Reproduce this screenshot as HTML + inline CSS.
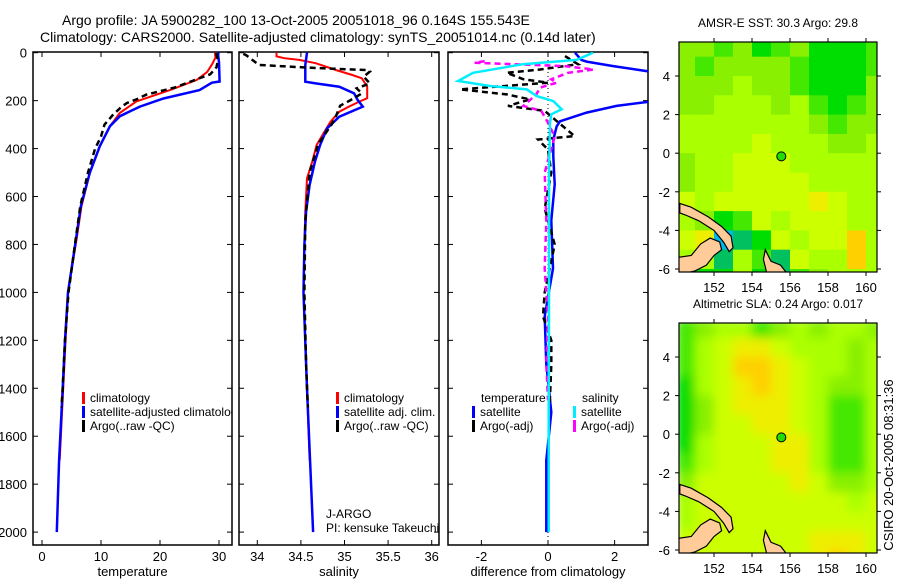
<!DOCTYPE html>
<html><head><meta charset="utf-8"><style>
html,body{margin:0;padding:0;background:#fff;}
svg{display:block;font-family:"Liberation Sans",sans-serif;}
text{fill:#000;}
</style></head><body>
<svg id="fig" width="900" height="580" viewBox="0 0 900 580" xmlns="http://www.w3.org/2000/svg">
<defs>
<clipPath id="cp1"><rect x="33" y="52" width="199" height="493"/></clipPath>
<clipPath id="cp2"><rect x="239" y="52" width="200" height="493"/></clipPath>
<clipPath id="cp3"><rect x="448" y="52" width="200" height="493"/></clipPath>
<clipPath id="cpm1"><rect x="679" y="42" width="198" height="230"/></clipPath>
<clipPath id="cpm2"><rect x="679" y="323" width="198" height="230"/></clipPath>
<filter id="blur" x="-10%" y="-10%" width="120%" height="120%"><feGaussianBlur stdDeviation="5"/></filter>
</defs>
<text x="62" y="25" font-size="14">Argo profile: JA 5900282_100 13-Oct-2005 20051018_96 0.164S 155.543E</text>
<text x="40" y="42" font-size="14">Climatology: CARS2000. Satellite-adjusted climatology: synTS_20051014.nc (0.14d later)</text>
<g id="g1"></g>
<g id="g2"></g>
<g id="g3"></g>
<g id="m1"></g>
<g id="m2"></g>
<text transform="translate(893,465) rotate(-90)" text-anchor="middle" font-size="13">CSIRO 20-Oct-2005 08:31:36</text>
</svg>
<script>
// ---- data ----
const depthTicks=[0,200,400,600,800,1000,1200,1400,1600,1800,2000];
const tempTicks=[0,10,20,30];
const salTicks=[34,34.5,35,35.5,36];
const salTickLabels=["34","34.5","35","35.5","36"];
const diffTicks=[-2,0,2];
const climT_d=[0,20,45,80,114,156,203,251,307,390,501,640,772,1000,1200,1400,1700];
const climT=[29.3,29.4,28.9,28.0,26.2,21.7,16.0,13.2,11.5,9.8,8.1,6.7,5.9,4.4,4.0,3.6,3.0];
const adjT_d=[0,40,120,125,156,191,225,265,307,390,501,640,772,1000,1200,1400,1700,2000];
const adjT=[29.8,30,30.1,28.8,26.7,20.6,16.6,13.2,11.5,9.8,8.1,6.6,5.8,4.4,3.9,3.5,2.9,2.5];
const argoT_d=[2,30,60,90,110,145,175,195,210,225,260,300,350,400,500,640,780,1000,1200,1400,1480];
const argoT=[29.5,29.8,29.6,28.5,26.3,22.5,17.7,16,14.4,13.5,12,10.6,10,9,7.8,6.5,5.7,4.5,3.9,3.5,3.3];
const climS_d=[0,15,23,30,44,72,93,107,142,190,204,225,246,288,330,385,455,524,663,802,1000,1300,1700];
const climS=[34.22,34.22,34.31,34.48,34.67,34.9,35.09,35.2,35.26,35.26,35.17,35.05,34.94,34.84,34.77,34.68,34.63,34.57,34.55,34.54,34.53,34.56,34.6];
const adjS_d=[0,51,121,128,142,170,197,225,267,316,385,455,552,663,802,1000,1400,2000];
const adjS=[34.57,34.55,34.55,34.67,34.94,35.11,35.15,35.21,34.94,34.8,34.72,34.66,34.6,34.56,34.54,34.53,34.57,34.64];
const argoS_d=[5,10,51,58,65,72,79,100,128,149,170,200,221,267,301,380,500,700,1000,1300,1480];
const argoS=[33.84,33.87,34.02,34.36,34.75,35.25,35.29,35.22,35.29,35.14,35.2,35.06,34.95,34.9,34.85,34.7,34.6,34.55,34.54,34.56,34.58];
const satT_d=[0,30,37,56,84,200,222,250,286,307,363,432,550,700,900,1100,1300,1500,1700,2000];
const satT=[0.81,1.0,1.16,1.96,3.3,3.3,2.06,1.16,0.36,0.26,0.16,0.16,0.2,0.1,0.15,-0.1,-0.05,0.1,-0.05,-0.05];
const satS_d=[0,30,48,84,118,139,153,181,202,236,257,292,500,1000,1500,2000];
const satS=[1.35,0.86,-0.75,-2.25,-2.7,-1.74,-0.64,-0.34,0.16,0.41,0.1,0.06,0.03,0.03,0.02,0.02];
const argoTd_d=[14,48,70,84,111,125,153,174,195,222,243,313,348,362,404,500,650,800,1000,1100,1200,1300,1470];
const argoTd=[0.51,0.9,-0.24,-1.24,-0.74,0,-2.64,-1.24,-0.54,-1.2,-0.1,0.5,0.8,-0.3,0,0.1,-0.1,0.2,-0.1,-0.15,0.1,0.1,0.05];
const argoSd_d=[35,42,56,70,84,111,125,146,174,222,243,292,350,500,700,900,1100,1300,1450];
const argoSd=[-1.9,-2.2,0.5,1.37,0.6,0.1,0.26,-0.24,-0.35,-0.74,-0.2,0,0.2,-0.1,-0.05,-0.1,0,-0.05,0];
const lonTicks=[152,154,156,158,160];
const latTicks=[4,2,0,-2,-4,-6];
const palette=["#0030d0","#00b8e8","#00c060","#00dd00","#44e800","#88f000","#aaff00","#ccff00","#eeee00","#ffd000","#ffb000"];
const sstGrid=[
[5,5,4,5,3,4,5,3,3,3,4],[5,4,5,5,5,5,4,3,3,3,4],[5,5,5,6,5,5,4,3,3,3,5],[5,5,6,6,6,5,6,4,3,4,5],
[6,6,6,6,6,6,6,5,4,5,5],[6,6,6,6,7,6,6,6,5,5,6],[5,6,6,7,7,7,6,6,6,6,6],[5,6,6,7,7,7,7,6,6,6,6],
[7,6,7,7,7,7,7,8,7,6,6],[6,5,3,4,7,6,7,7,7,6,6],[7,8,1,2,3,7,6,7,7,9,6],[6,6,2,6,4,2,7,6,6,9,6],[6,3,3,6,3,2,4,5,6,6,6]];
const slaGrid=[
[4,5,6,6,4,5,6,5,6,6,5],[4,6,7,8,8,7,6,6,6,5,6],[4,6,7,9,9,8,7,6,6,5,6],[3,6,7,8,9,8,7,6,5,5,6],
[3,5,7,8,8,8,7,6,4,4,6],[3,5,7,7,8,8,7,6,4,4,6],[3,6,7,7,7,8,8,6,4,4,6],[4,6,7,7,7,8,8,6,4,4,6],
[5,7,7,7,7,7,8,7,5,5,6],[6,7,7,7,7,7,7,7,7,6,7],[6,7,7,7,7,7,7,7,7,7,7],[7,7,7,7,7,7,7,8,8,8,7],[7,7,7,7,7,7,7,8,9,8,7]];
const argoLon=155.543, argoLat=-0.164;
const land1=[[150.2,-2.6],[150.8,-2.8],[151.7,-3.3],[152.4,-3.8],[152.9,-4.3],[153.0,-4.9],[152.8,-5.1],[152.5,-4.6],[152,-4.0],[151.2,-3.5],[150.5,-3.2],[150.2,-3.1]];
const land2=[[150.1,-5.4],[150.8,-5.3],[151.3,-4.7],[151.8,-4.4],[152.3,-4.6],[152.4,-5.0],[152.0,-5.3],[151.6,-5.8],[151,-6.1],[150.1,-6.3]];
const land3=[[154.7,-5.0],[155.0,-5.6],[155.5,-5.8],[155.9,-6.3],[154.8,-6.3],[154.6,-5.5]];

// ---- helpers ----
const NS="http://www.w3.org/2000/svg";
function mk(tag,attrs,parent){const e=document.createElementNS(NS,tag);for(const k in attrs)e.setAttribute(k,attrs[k]);parent.appendChild(e);return e;}
const yD=d=>52.7+d*0.2397;
function panel(g,x0,x1,xs,ticks,labels,title){
  const f=mk('rect',{x:x0,y:52,width:x1-x0,height:493,fill:'none',stroke:'#000','stroke-width':1.5},g);
  
  
  ticks.forEach((t,i)=>{const x=xs(t);
    mk('line',{x1:x,x2:x,y1:52,y2:57,stroke:'#000'},g);mk('line',{x1:x,x2:x,y1:540,y2:545,stroke:'#000'},g);
    const tx=mk('text',{x:x,y:561,'text-anchor':'middle','font-size':13},g);tx.textContent=labels[i];
    
    });
  depthTicks.forEach(d=>{const y=yD(d);mk('line',{x1:x0,x2:x0+5,y1:y,y2:y,stroke:'#000'},g);mk('line',{x1:x1-5,x2:x1,y1:y,y2:y,stroke:'#000'},g);});
  const t=mk('text',{x:(x0+x1)/2,y:576,'text-anchor':'middle','font-size':13},g);t.textContent=title;
  
  
}
function line(g,xs,vals,ds,color,w,dash,name,cp){
  const p=vals.map((v,i)=>(i?'L':'M')+xs(v).toFixed(1)+','+yD(ds[i]).toFixed(1)).join('');
  const a={d:p,fill:'none',stroke:color,'stroke-width':w,'clip-path':'url(#'+cp+')'};
  if(dash)a['stroke-dasharray']=dash;
  const e=mk('path',a,g);
  
  
}
function legend(g,x,y,color,label,name){
  mk('rect',{x:x,y:y-10,width:3,height:12,fill:color},g);
  const t=mk('text',{x:x+8,y:y,'font-size':12},g);t.textContent=label;
  
  
}
// ---- temperature ----
const g1=document.getElementById('g1');
const xT=t=>42+t*5.9;
panel(g1,33,232,xT,tempTicks,tempTicks.map(String),'temperature');
depthTicks.forEach(d=>{const t=mk('text',{x:27,y:yD(d)+5,'text-anchor':'end','font-size':13},g1);t.textContent=d;
  
  });
line(g1,xT,climT,climT_d,'#ff0000',2,null,'climatology-temperature-line','cp1');
line(g1,xT,adjT,adjT_d,'#0000ff',2.5,null,'satellite-adjusted-temperature-line','cp1');
line(g1,xT,argoT,argoT_d,'#000',2.5,'6,4','argo-temperature-line','cp1');
const lg1=mk('g',{'clip-path':'url(#cp1)'},g1);
legend(lg1,82,402,'#ff0000','climatology','legend-climatology');
legend(lg1,82,416,'#0000ff','satellite-adjusted climatology','legend-satellite-adjusted');
legend(lg1,82,430,'#000','Argo(..raw -QC)','legend-argo');
// ---- salinity ----
const g2=document.getElementById('g2');
const xS=s=>257.3+(s-34)*87.2;
panel(g2,239,439,xS,salTicks,salTickLabels,'salinity');
line(g2,xS,climS,climS_d,'#ff0000',2,null,'climatology-salinity-line','cp2');
line(g2,xS,adjS,adjS_d,'#0000ff',2.5,null,'satellite-adjusted-salinity-line','cp2');
line(g2,xS,argoS,argoS_d,'#000',2.5,'6,4','argo-salinity-line','cp2');
legend(g2,336,402,'#ff0000','climatology','legend-climatology');
legend(g2,336,416,'#0000ff','satellite adj. clim.','legend-satellite-adj');
legend(g2,336,430,'#000','Argo(..raw -QC)','legend-argo');
let t=mk('text',{x:326,y:518,'font-size':12},g2);t.textContent='J-ARGO';

t=mk('text',{x:326,y:532,'font-size':12},g2);t.textContent='PI: kensuke Takeuchi';

// ---- difference ----
const g3=document.getElementById('g3');
const xD=v=>548+v*33.3;
panel(g3,448,648,xD,diffTicks,diffTicks.map(String),'difference from climatology');
mk('line',{x1:548,x2:548,y1:52,y2:545,stroke:'#000','stroke-dasharray':'1,3','stroke-width':1},g3);
line(g3,xD,satT,satT_d,'#0000ff',2.5,null,'satellite-temperature-diff-line','cp3');
line(g3,xD,argoTd,argoTd_d,'#000',2.5,'6,4','argo-temperature-diff-line','cp3');
line(g3,xD,argoSd,argoSd_d,'#ff00ff',2.5,'6,4','argo-salinity-diff-line','cp3');
line(g3,xD,satS,satS_d,'#00eeff',2.5,null,'satellite-salinity-diff-line','cp3');
t=mk('text',{x:481,y:402,'font-size':12},g3);t.textContent='temperature';

t=mk('text',{x:582,y:402,'font-size':12},g3);t.textContent='salinity';

legend(g3,472,416,'#0000ff','satellite','legend-temp-satellite');
legend(g3,472,430,'#000','Argo(-adj)','legend-temp-argo');
legend(g3,573,416,'#00eeff','satellite','legend-sal-satellite');
legend(g3,573,430,'#ff00ff','Argo(-adj)','legend-sal-argo');
// ---- maps ----
function map(gid,top,grid,cp,titleTxt,blur){
  const g=document.getElementById(gid);
  const lon=l=>714+(l-152)*19;
  const lat=a=>(top+34)+(4-a)*19.3;
  const cells=mk('g',{'clip-path':'url(#'+cp+')'},g);
  const inner=mk('g',blur?{filter:'url(#blur)'}:{},cells);
  grid.forEach((row,r)=>row.forEach((v,c)=>{
    const x0=lon(150+c),y0=lat(6-r);
    const e=mk('rect',{x:x0,y:y0,width:19.5,height:19.8,fill:palette[v]},inner);
    
    
  }));
  [land1,land2,land3].forEach(L=>{
    const e=mk('polygon',{points:L.map(p=>lon(p[0]).toFixed(1)+','+lat(p[1]).toFixed(1)).join(' '),fill:'#ffcc99',stroke:'#000','stroke-width':1.2},cells);
    
    
  });
  const pt=mk('circle',{cx:lon(argoLon),cy:lat(argoLat),r:4.5,fill:'#22dd00',stroke:'#000','stroke-width':1},cells);
  
  
  mk('rect',{x:679,y:top,width:198,height:230,fill:'none',stroke:'#000','stroke-width':1.2},g);
  lonTicks.forEach(l=>{const x=lon(l);mk('line',{x1:x,x2:x,y1:top-4,y2:top,stroke:'#000'},g);mk('line',{x1:x,x2:x,y1:top+230,y2:top+234,stroke:'#000'},g);
    const tx=mk('text',{x:x,y:top+250,'text-anchor':'middle','font-size':13},g);tx.textContent=l;
    });
  latTicks.forEach(a=>{const y=lat(a);mk('line',{x1:675,x2:679,y1:y,y2:y,stroke:'#000'},g);mk('line',{x1:877,x2:881,y1:y,y2:y,stroke:'#000'},g);
    const tx=mk('text',{x:670,y:y+5,'text-anchor':'end','font-size':13},g);tx.textContent=a;
    });
  const tt=mk('text',{x:778,y:top-15,'text-anchor':'middle','font-size':12},g);tt.textContent=titleTxt;
  
}
map('m1',42,sstGrid,'cpm1','AMSR-E SST: 30.3 Argo: 29.8',false);
map('m2',323,slaGrid,'cpm2','Altimetric SLA: 0.24 Argo: 0.017',true);
</script>
</body></html>
